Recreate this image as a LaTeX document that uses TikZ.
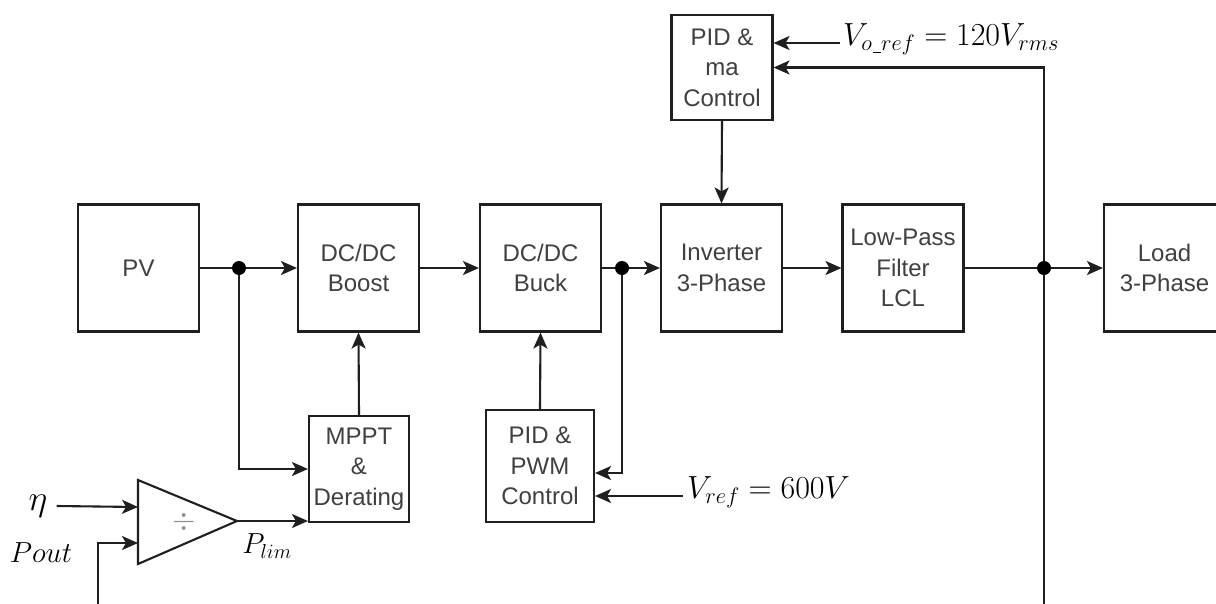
\RequirePackage{fix-cm}
\documentclass[tikz,border=0pt]{standalone}
\usepackage{fontspec}
\setmainfont{Liberation Sans}
\usetikzlibrary{arrows.meta,calc}
\tikzset{
  ln/.style={line width=2.1pt, draw=black!88},
  arr/.style={ln, -{Stealth[length=16pt,width=14pt,inset=4pt]}},
  blk/.style={ln, rectangle, align=center, text=black!75, inner sep=0pt,
     font=\fontsize{24}{30.5}\selectfont},
  dotn/.style={circle, fill=black, inner sep=0pt, minimum size=14pt},
  mlab/.style={inner sep=0pt, font=\fontsize{32}{38}\selectfont},
}
\begin{document}
\begin{tikzpicture}[x=1pt,y=-1pt]
\clip (0,0) rectangle (1216,603);
\fill[white] (0,0) rectangle (1216,603);
% main chain
\node[blk, minimum width=121pt, minimum height=127pt] (pv) at (138.5,268) {PV};
\node[blk, minimum width=121pt, minimum height=127pt] (boost) at (358.5,268) {DC/DC\\Boost};
\node[blk, minimum width=121pt, minimum height=127pt] (buck) at (540.5,268) {DC/DC\\Buck};
\node[blk, minimum width=121pt, minimum height=127pt] (inv) at (721.5,268) {Inverter\\3-Phase};
\node[blk, minimum width=121pt, minimum height=127pt] (lpf) at (903,268) {Low-Pass\\Filter\\LCL};
\node[blk, minimum width=121pt, minimum height=127pt] (load) at (1164.5,268) {Load\\3-Phase};
% controllers
\node[blk, minimum width=101pt, minimum height=105pt] (pidma) at (722,67.5) {PID \&\\ma\\Control};
\node[blk, minimum width=100pt, minimum height=106pt] (mppt) at (359,469) {MPPT\\\&\\Derating};
\node[blk, minimum width=108pt, minimum height=112pt] (pidpwm) at (540,466) {PID \&\\PWM\\Control};
% junctions
\node[dotn] (j1) at (239,268) {};
\node[dotn] (j2) at (622,268) {};
\node[dotn] (j3) at (1044,268) {};
% divider
\coordinate (tA) at (138,480);
\coordinate (tB) at (138,564);
\coordinate (divtip) at (237,521);
\coordinate (divin1) at (138,507);
\coordinate (divin2) at (138,543);
\draw[ln, line join=miter] (tA) -- (divtip) -- (tB) -- cycle;
\node[inner sep=0pt, text=black!45, font=\fontsize{30}{34}\selectfont] (div) at (184,522) {$\div$};
% labels
\node[mlab, font=\fontsize{36}{40}\selectfont] (eta) at (38,506) {$\eta$};
\node[mlab, font=\fontsize{29}{33}\selectfont] (pout) at (41,553) {$Pout$};
\node[mlab, font=\fontsize{29}{33}\selectfont] (plim) at (267,546) {$P_{lim}$};
\node[mlab, anchor=west] (vref) at (687,492) {$V_{ref}=600V$};
\node[mlab, anchor=west] (voref) at (843,39) {$V_{o\kern0.5pt\rule[-2.5pt]{8pt}{1pt}\kern0.5pt ref}=120V_{rms}$};
\coordinate (pbot) at (98,610);
\coordinate (fbot) at (1044,610);
% connectors
\draw[ln] (pv.east) -- (j1);
\draw[arr] (j1) -- (boost.west);
\draw[arr] (boost.east) -- (buck.west);
\draw[ln] (buck.east) -- (j2);
\draw[arr] (j2) -- (inv.west);
\draw[arr] (inv.east) -- (lpf.west);
\draw[ln] (lpf.east) -- (j3);
\draw[arr] (j3) -- (load.west);
\draw[arr] (j1) |- (mppt.west);
\draw[arr] (mppt.north) -- (boost.south);
\draw[arr] (pidpwm.north) -- (buck.south);
\draw[arr] (j2) |- ([yshift=-7pt]pidpwm.east);
\draw[arr] ([xshift=-4pt,yshift=-4pt]vref.west) -- ([yshift=-4pt]vref.west -| pidpwm.east);
\draw[arr] (pidma.south) -- (inv.north);
\draw[arr] ([xshift=-3pt,yshift=-4pt]voref.west) -- ([yshift=-4pt]voref.west -| pidma.east);
\draw[arr] (j3) |- (pidma.east);
\draw[ln] (j3) -- (fbot);
\draw[arr] ([xshift=9pt]eta.east) -- (divin1 -| tA);
\draw[arr] (pbot) |- (divin2);
\draw[arr] (divtip) -- (divtip -| mppt.west);
\end{tikzpicture}
\end{document}
